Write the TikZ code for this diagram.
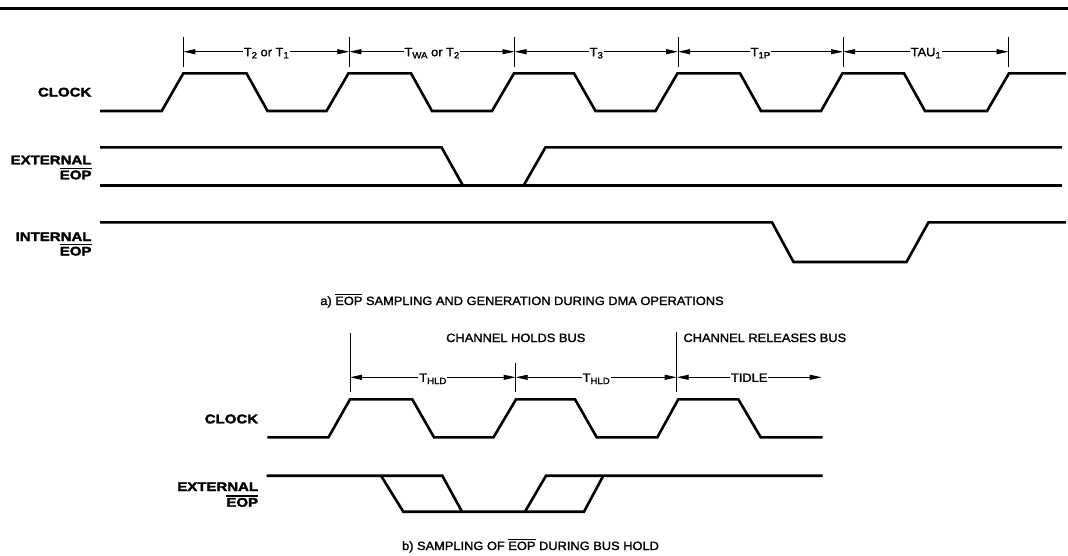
\documentclass[tikz,border=0pt]{standalone}
\usepackage{fontspec}
\setmainfont{Liberation Sans}
\newfontfamily\bfam[FakeStretch=1.2,FakeBold=2.4]{Liberation Sans}
\newfontfamily\rfam[FakeStretch=1.07,FakeBold=1.6]{Liberation Sans}
\usetikzlibrary{arrows.meta}
\newcommand\ovl[2][1.3pt]{\leavevmode\setbox0\hbox{#2}\rlap{\rule[\dimexpr\ht0+1.3pt\relax]{\wd0}{#1}}\box0\relax}
\newcommand\sbs[1]{\raisebox{-2.2pt}{\fontsize{9}{9}\selectfont #1}}
\tikzset{
  sig/.style={line width=2.6pt},
  rule/.style={line width=2.8pt},
  vbar/.style={line width=0.9pt},
  dim/.style={line width=0.8pt, {Triangle[length=12pt,width=5pt]}-{Triangle[length=12pt,width=5pt]}},
  lbl/.style={font=\rfam\fontsize{12}{13}\selectfont, fill=white, inner sep=1pt, anchor=base, yshift=-4.5pt},
  sname/.style={font=\bfam\bfseries\fontsize{12.5}{14}\selectfont, anchor=base east, inner sep=0pt},
  capt/.style={font=\rfam\fontsize{12}{13}\selectfont, inner sep=0pt},
}
\begin{document}
\begin{tikzpicture}[x=1pt,y=-1pt]
\useasboundingbox (0,0) rectangle (1068,555);
% top rule
\draw[rule] (0,8.6) -- (1068,8.6);

% ---------- part a ----------
% markers
\foreach \n/\x in {0/183.3,1/349.3,2/514.5,3/678,4/843,5/1008.5}{
  \coordinate (at\n) at (\x,36.7);
  \coordinate (ab\n) at (\x,67);
  \coordinate (am\n) at (\x,51.7);
  \draw[vbar] (at\n) -- (ab\n);
}
\draw[dim] (am0) -- (am1) node[lbl,midway] (la0) {T\sbs{2} or T\sbs{1}};
\draw[dim] (am1) -- (am2) node[lbl,midway] (la1) {T\sbs{WA} or T\sbs{2}};
\draw[dim] (am2) -- (am3) node[lbl,midway] (la2) {T\sbs{3}};
\draw[dim] (am3) -- (am4) node[lbl,midway] (la3) {T\sbs{1P}};
\draw[dim] (am4) -- (am5) node[lbl,midway] (la4) {TAU\sbs{1}};

% clock a
\draw[sig] (100,111) -- (161.7,111) -- (183.3,73.3) -- (246.5,73.3) -- (267.5,111)
  -- (326.5,111) -- (348.5,73.3) -- (411,73.3) -- (432,111)
  -- (492,111) -- (514,73.3) -- (574,73.3) -- (595.5,111)
  -- (655.5,111) -- (677.5,73.3) -- (740,73.3) -- (761,111)
  -- (821,111) -- (842.5,73.3) -- (904,73.3) -- (925,111)
  -- (987,111) -- (1009,73.3) -- (1066,73.3);

% external EOP a
\draw[sig] (100,147.3) -- (441.5,147.3) -- (463,185.7);
\draw[sig] (100,185.7) -- (1062,185.7);
\draw[sig] (523.5,185.7) -- (545.5,147.3) -- (1062,147.3);

% internal EOP a
\draw[sig] (100,222.3) -- (772,222.3) -- (793.5,262) -- (906.5,262) -- (928.5,222.3) -- (1066,222.3);

% labels a
\node[sname] (clka) at (91.5,96.5) {CLOCK};
\node[sname] (exta) at (91.7,164.3) {EXTERNAL};
\node[sname] (exeopa) at (91.7,179.3) {\ovl{EOP}};
\node[sname] (inta) at (91.7,241) {INTERNAL};
\node[sname] (ineopa) at (91.7,255.5) {\ovl{EOP}};
\node[capt,anchor=base] (capa) at (522,305) {a) \ovl[0.9pt]{EOP} SAMPLING AND GENERATION DURING DMA OPERATIONS};

% ---------- part b ----------
\coordinate (bt0) at (350,332.7);   \coordinate (bb0) at (350,391.7);
\coordinate (bt1) at (515.7,362.7); \coordinate (bb1) at (515.7,391.7);
\coordinate (bt2) at (676.7,331.7); \coordinate (bb2) at (676.7,391.7);
\draw[vbar] (bt0) -- (bb0);
\draw[vbar] (bt1) -- (bb1);
\draw[vbar] (bt2) -- (bb2);
\coordinate (bm0) at (350,377.3);
\coordinate (bm1) at (515.7,377.3);
\coordinate (bm2) at (676.7,377.3);
\coordinate (bend) at (821.7,377.3);
\draw[dim] (bm0) -- (bm1) node[lbl,midway] (lb0) {T\sbs{HLD}};
\draw[dim] (bm1) -- (bm2) node[lbl,midway] (lb1) {T\sbs{HLD}};
\draw[dim] (bm2) -- (bend) node[lbl,midway] (lb2) {TIDLE};

\node[capt,anchor=base west] (holds) at (446,342) {CHANNEL HOLDS BUS};
\node[capt,anchor=base west] (rel) at (683.3,342) {CHANNEL RELEASES BUS};

% clock b
\draw[sig] (267.3,437.3) -- (328.5,437.3) -- (350,399.3) -- (412.3,399.3) -- (434,437.3)
  -- (493.5,437.3) -- (516,399.3) -- (575,399.3) -- (596.7,437.3)
  -- (657.3,437.3) -- (678.3,399.3) -- (738.3,399.3) -- (760.7,437.3) -- (822.7,437.3);

% external EOP b
\draw[sig] (266.7,475.7) -- (442.3,475.7) -- (462,511.7);
\draw[sig] (381,475.7) -- (403.3,511.7) -- (584,511.7) -- (603.3,475.7);
\draw[sig] (525,511.7) -- (546,475.7) -- (822.7,475.7);

% labels b
\node[sname] (clkb) at (258.3,423.3) {CLOCK};
\node[sname] (extb) at (258.3,491) {EXTERNAL};
\node[sname] (exeopb) at (258.3,506.7) {\ovl{EOP}};
\node[capt,anchor=base] (capb) at (530.5,550) {b) SAMPLING OF \ovl[0.9pt]{EOP} DURING BUS HOLD};
\end{tikzpicture}
\end{document}
